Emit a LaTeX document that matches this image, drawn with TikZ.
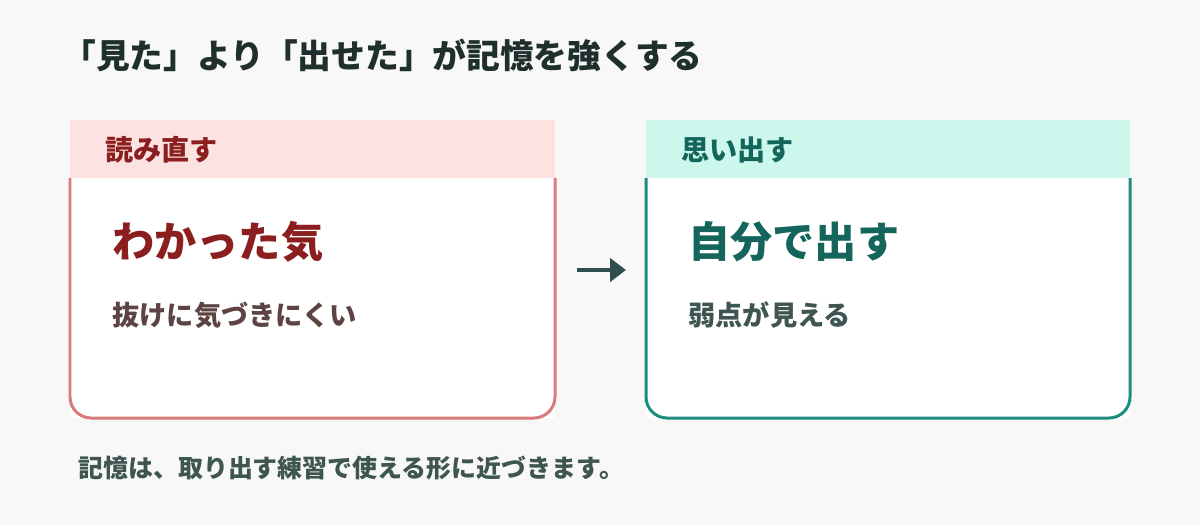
\documentclass[tikz,border=0pt]{standalone}
\usepackage{fontspec}
\newfontfamily\cjk{Noto Sans CJK JP}
\usetikzlibrary{positioning,arrows.meta}
\definecolor{bgc}{HTML}{F8F8F6}
\definecolor{redhead}{HTML}{FDE2E2}
\definecolor{redline}{HTML}{D97B7B}
\definecolor{redtext}{HTML}{8B1E1E}
\definecolor{redsub}{HTML}{5E4343}
\definecolor{teahead}{HTML}{CCF7EC}
\definecolor{tealine}{HTML}{1E8C80}
\definecolor{teatext}{HTML}{14665C}
\definecolor{teasub}{HTML}{3E5552}
\definecolor{inkc}{HTML}{1F2F2D}
\definecolor{arrowc}{HTML}{2F4F4F}
\begin{document}
\begin{tikzpicture}[
        x=0.02cm, y=-0.02cm,
        every node/.style={font=\cjk\bfseries, anchor=west, inner sep=0pt},
        headtxt/.style={font=\cjk\bfseries\fontsize{16}{18}\selectfont},
        bigtxt/.style={font=\cjk\bfseries\fontsize{24}{27}\selectfont},
        subtxt/.style={font=\cjk\bfseries\fontsize{15.5}{17}\selectfont},
        frame/.style={line width=1.7pt, rounded corners=12pt},
    ]
    \fill[bgc] (0,0) rectangle (1200,525);
    \node[font=\cjk\bfseries\fontsize{19.2}{22}\selectfont, text=inkc](title) at (62,55){「見た」より「出せた」が記憶を強くする};
    % left box
    \fill[white] (70,178) rectangle (555,418);
    \fill[redhead] (70,120) rectangle (555,178);
    \draw[frame, redline] (70,178) -- (70,418) -- (555,418) -- (555,178);
    \node[headtxt, text=redtext](reread) at (105,150){読み直す};
    \node[bigtxt, text=redtext](gotit) at (112,242){わかった気};
    \node[subtxt, text=redsub](miss) at (112,315){抜けに気づきにくい};
    % right box
    \fill[white] (646,178) rectangle (1130,418);
    \fill[teahead] (646,120) rectangle (1130,178);
    \draw[frame, tealine] (646,178) -- (646,418) -- (1130,418) -- (1130,178);
    \node[headtxt, text=teatext](recall) at (681,150){思い出す};
    \node[bigtxt, text=teatext](self) at (688,242){自分で出す};
    \node[subtxt, text=teasub](weak) at (688,315){弱点が見える};
    % arrow
    \coordinate (a0) at (577,270);
    \coordinate (a1) at (626,270);
    \draw[line width=2.8pt, arrowc, -{Triangle[length=9pt,width=13pt]}] (a0) -- (a1);
    \node[font=\cjk\bfseries\fontsize{14.2}{16}\selectfont, text=teasub](note) at (78,468){記憶は、取り出す練習で使える形に近づきます。};
\end{tikzpicture}
\end{document}
